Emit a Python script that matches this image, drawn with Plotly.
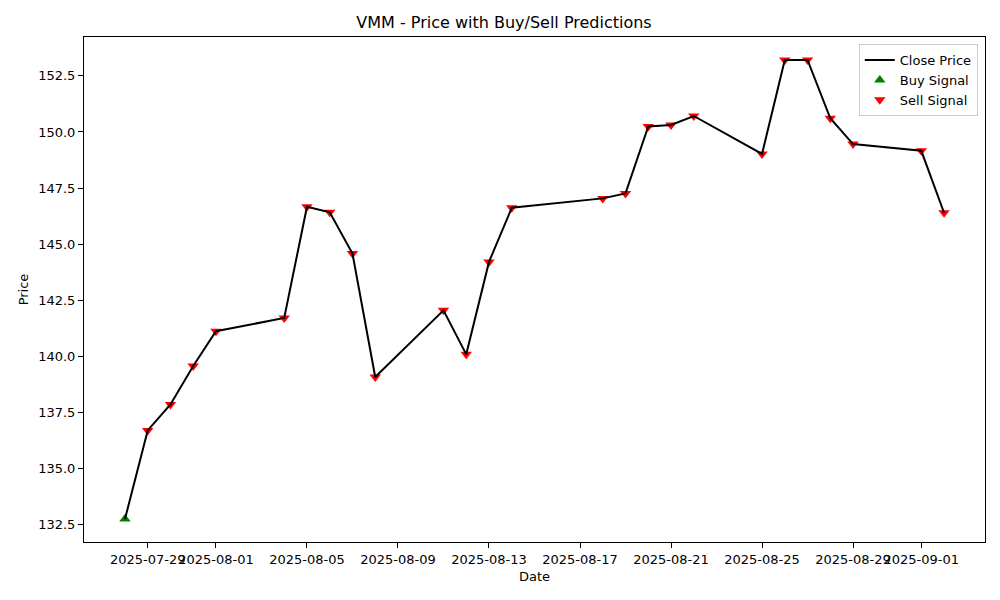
import plotly.graph_objs as go

# close prices
dates = ['2025-07-28', '2025-07-29', '2025-07-30', '2025-07-31', '2025-08-01',
         '2025-08-04', '2025-08-05', '2025-08-06', '2025-08-07', '2025-08-08',
         '2025-08-11', '2025-08-12', '2025-08-13', '2025-08-14', '2025-08-18',
         '2025-08-19', '2025-08-20', '2025-08-21', '2025-08-22', '2025-08-25',
         '2025-08-26', '2025-08-27', '2025-08-28', '2025-08-29', '2025-09-01',
         '2025-09-02']
close = [132.75, 136.70, 137.86, 139.57, 141.12,
         141.71, 146.67, 146.42, 144.58, 139.08,
         142.05, 140.09, 144.21, 146.62, 147.04,
         147.26, 150.24, 150.31, 150.71, 149.02,
         153.21, 153.21, 150.61, 149.46, 149.16,
         146.40]

# signals
buy_dates = ['2025-07-28']
buy_prices = [132.75]
sell_dates = dates[1:]
sell_prices = close[1:]

xtick_vals = ['2025-07-29', '2025-08-01', '2025-08-05', '2025-08-09', '2025-08-13',
              '2025-08-17', '2025-08-21', '2025-08-25', '2025-08-29', '2025-09-01']
ytick_vals = [132.5, 135.0, 137.5, 140.0, 142.5, 145.0, 147.5, 150.0, 152.5]

fig = go.Figure()

# scatter first so the line sits on top (like matplotlib zorder)
fig.add_trace(go.Scatter(x=buy_dates, y=buy_prices, mode='markers', name='Buy Signal',
                         marker=dict(symbol='triangle-up', color='green', size=10),
                         legendrank=2))
fig.add_trace(go.Scatter(x=sell_dates, y=sell_prices, mode='markers', name='Sell Signal',
                         marker=dict(symbol='triangle-down', color='red', size=10),
                         legendrank=3))
fig.add_trace(go.Scatter(x=dates, y=close, mode='lines', name='Close Price',
                         line=dict(color='black', width=2), legendrank=1))

axis_style = dict(showline=True, linecolor='black', linewidth=1, mirror=True,
                  ticks='outside', ticklen=5, tickcolor='black', showgrid=False,
                  zeroline=False, automargin=False, tickfont=dict(size=13, color='black'))

# page body adds ~8px offset, so the figure is a bit smaller than the window
fig.update_layout(
    width=992, height=592,
    template='plotly_white',
    font=dict(family='DejaVu Sans', color='black', size=13),
    title=dict(text='VMM - Price with Buy/Sell Predictions', x=0.5, xanchor='center',
               y=0.976, yanchor='middle', font=dict(size=16)),
    margin=dict(l=76, r=15, t=29, b=58),
    plot_bgcolor='white', paper_bgcolor='white',
    xaxis=dict(title=dict(text='Date', standoff=6, font=dict(size=13)),
               range=['2025-07-26 04:48', '2025-09-03 19:12'], tickangle=0,
               tickvals=xtick_vals, ticktext=xtick_vals, **axis_style),
    yaxis=dict(title=dict(text='Price', standoff=6, font=dict(size=13)), range=[131.73, 154.23],
               tickvals=ytick_vals, tickformat='.1f', **axis_style),
    legend=dict(x=0.992, y=0.986, xanchor='right', yanchor='top',
                bordercolor='#cccccc', borderwidth=1, bgcolor='rgba(255,255,255,0.8)',
                font=dict(size=13)),
)

fig.write_html('out.html')
